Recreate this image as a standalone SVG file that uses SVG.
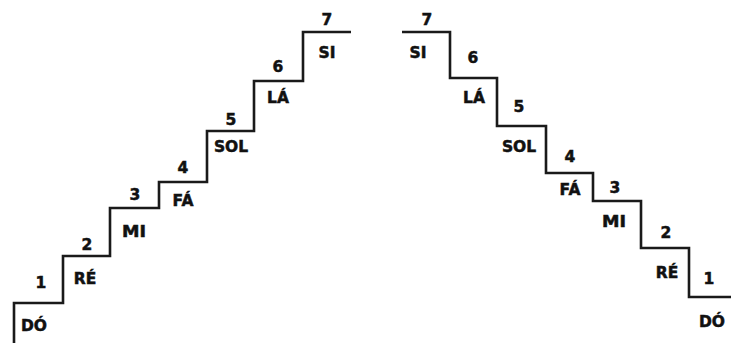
<svg xmlns="http://www.w3.org/2000/svg" width="731" height="343" viewBox="0 0 731 343">
<style>
.stair{fill:none;stroke:#1a1a1a;stroke-width:2.6;stroke-linejoin:miter;stroke-linecap:butt}
text{font-family:"DejaVu Sans","Liberation Sans",sans-serif;font-weight:bold;font-size:15.5px;fill:#111;stroke:#111;stroke-width:0.5;text-anchor:middle}
</style>
<rect width="731" height="343" fill="#fff"/>
<g id="connectors">
<path class="stair" d="M14,343 V303 H63 V256 H110 V208 H159 V182 H207 V131 H254 V81 H303 V32 H351"/>
<path class="stair" d="M402,32 H450 V78 H497 V126 H546 V173 H593 V201 H641 V248 H689 V297 H731"/>
</g>
<g id="left-1"><text x="41" y="288">1</text><text x="34" y="331">DÓ</text></g>
<g id="left-2"><text x="87" y="250">2</text><text x="85" y="284">RÉ</text></g>
<g id="left-3"><text x="135" y="200">3</text><text x="134" y="237" textLength="24" lengthAdjust="spacingAndGlyphs">MI</text></g>
<g id="left-4"><text x="183" y="173">4</text><text x="183" y="206">FÁ</text></g>
<g id="left-5"><text x="231" y="125">5</text><text x="231" y="152">SOL</text></g>
<g id="left-6"><text x="278" y="72">6</text><text x="278" y="103">LÁ</text></g>
<g id="left-7"><text x="327" y="25">7</text><text x="327" y="58">SI</text></g>
<g id="right-7"><text x="427" y="25">7</text><text x="418" y="58">SI</text></g>
<g id="right-6"><text x="473" y="63">6</text><text x="474" y="103">LÁ</text></g>
<g id="right-5"><text x="519" y="112">5</text><text x="519" y="152">SOL</text></g>
<g id="right-4"><text x="570" y="162">4</text><text x="570" y="195">FÁ</text></g>
<g id="right-3"><text x="615" y="193">3</text><text x="614" y="227" textLength="24" lengthAdjust="spacingAndGlyphs">MI</text></g>
<g id="right-2"><text x="666" y="238">2</text><text x="667" y="278">RÉ</text></g>
<g id="right-1"><text x="709" y="284">1</text><text x="712" y="327">DÓ</text></g>
</svg>
